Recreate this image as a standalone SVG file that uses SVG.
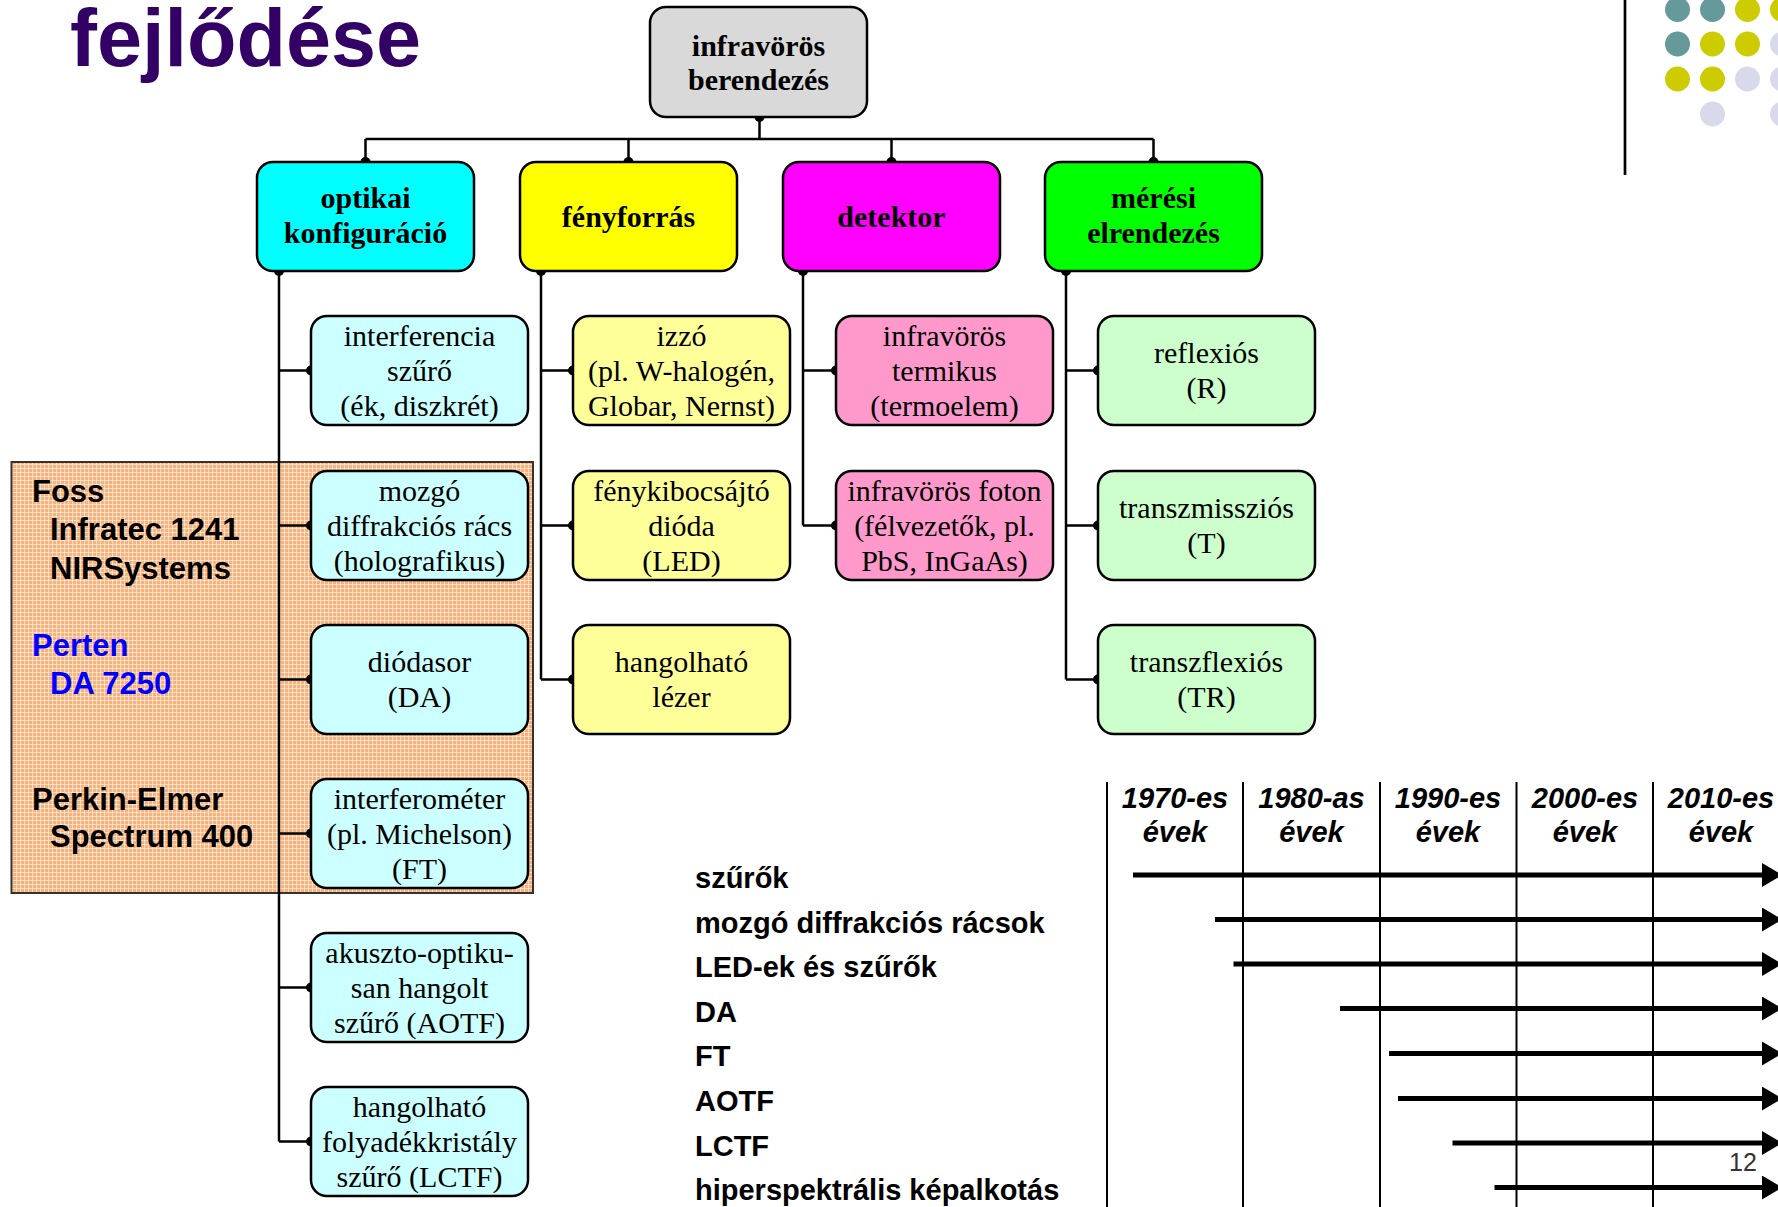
<svg xmlns="http://www.w3.org/2000/svg" width="1778" height="1207" viewBox="0 0 1778 1207">
<defs>
<pattern id="hatch" width="4" height="4" patternUnits="userSpaceOnUse">
<rect width="4" height="4" fill="#f8b27a"/>
<path d="M0 0.5H4M0.5 0V4" stroke="#ffffff" stroke-opacity="0.55" stroke-width="1"/>
</pattern>
<marker id="ah" markerUnits="userSpaceOnUse" markerWidth="20" markerHeight="24" viewBox="0 0 20 24" refX="0" refY="12" orient="auto">
<path d="M0 0L20 12L0 24Z" fill="#000"/>
</marker>
</defs>
<style>
.box{stroke:#000;stroke-width:2.5}
.t1{font-family:"Liberation Serif","Times New Roman",serif;font-weight:bold;font-size:30px;text-anchor:middle;fill:#000}
.t2{font-family:"Liberation Serif","Times New Roman",serif;font-size:30px;text-anchor:middle;fill:#000}
.c{stroke:#000;stroke-width:2.5;fill:none}
.dot{fill:#000}
.vend{font-family:"Liberation Sans",Arial,sans-serif;font-weight:bold;font-size:31px;fill:#000}
.blue{fill:#0000ff}
.tl{font-family:"Liberation Sans",Arial,sans-serif;font-weight:bold;font-size:29px;fill:#000}
.hd{font-family:"Liberation Sans",Arial,sans-serif;font-weight:bold;font-style:italic;font-size:29px;text-anchor:middle;fill:#000}
.grid{stroke:#000;stroke-width:2}
.arr{stroke:#000;stroke-width:5;marker-end:url(#ah)}
.teal{fill:#669999}.olive{fill:#cccc00}.lav{fill:#d9d9ec}
</style>

<!-- title -->
<text x="70" y="66" font-family="'Liberation Sans',Arial,sans-serif" font-weight="bold" font-size="81" fill="#330066">fejlődése</text>

<!-- decorative -->
<g id="decor">
<line x1="1625" y1="0" x2="1625" y2="175" stroke="#000" stroke-width="2.7"/>
<circle class="teal" cx="1677.5" cy="9.5" r="12.5"/>
<circle class="teal" cx="1712.5" cy="9.5" r="12.5"/>
<circle class="olive" cx="1747.5" cy="9.5" r="12.5"/>
<circle class="olive" cx="1782.5" cy="9.5" r="12.5"/>
<circle class="teal" cx="1677.5" cy="44" r="12.5"/>
<circle class="olive" cx="1712.5" cy="44" r="12.5"/>
<circle class="olive" cx="1747.5" cy="44" r="12.5"/>
<circle class="lav" cx="1782.5" cy="44" r="12.5"/>
<circle class="olive" cx="1677.5" cy="79" r="12.5"/>
<circle class="olive" cx="1712.5" cy="79" r="12.5"/>
<circle class="lav" cx="1747.5" cy="79" r="12.5"/>
<circle class="lav" cx="1782.5" cy="79" r="12.5"/>
<circle class="lav" cx="1712.5" cy="114" r="12.5"/>
<circle class="lav" cx="1782.5" cy="114" r="12.5"/>
</g>

<!-- vendor panel -->
<g id="vendors">
<rect x="11.5" y="462" width="521.5" height="431" fill="url(#hatch)" stroke="#333" stroke-width="2"/>
<text class="vend" x="32" y="502">Foss</text>
<text class="vend" x="50" y="540">Infratec 1241</text>
<text class="vend" x="50" y="579">NIRSystems</text>
<text class="vend blue" x="32" y="656">Perten</text>
<text class="vend blue" x="50" y="694">DA 7250</text>
<text class="vend" x="32" y="810">Perkin-Elmer</text>
<text class="vend" x="50" y="847">Spectrum 400</text>
</g>

<!-- connectors -->
<g id="connectors">
<path class="c" d="M759.5 117V139M365.5 139H1153.5M365.5 139V162M628.5 139V162M891.5 139V162M1153.5 139V162"/>
<path class="c" d="M279 271V1141.5M279 370.5H311M279 525.5H311M279 679.5H311M279 833.5H311M279 987.5H311M279 1141.5H311"/>
<path class="c" d="M541 271V679.5M541 370.5H573M541 525.5H573M541 679.5H573"/>
<path class="c" d="M803 271V525.5M803 370.5H836M803 525.5H836"/>
<path class="c" d="M1066 271V679.5M1066 370.5H1098M1066 525.5H1098M1066 679.5H1098"/>
<g class="dot">
<circle cx="759.5" cy="117" r="5"/>
<circle cx="365.5" cy="162" r="5"/><circle cx="628.5" cy="162" r="5"/><circle cx="891.5" cy="162" r="5"/><circle cx="1153.5" cy="162" r="5"/>
<circle cx="279" cy="271" r="5"/><circle cx="541" cy="271" r="5"/><circle cx="803" cy="271" r="5"/><circle cx="1066" cy="271" r="5"/>
<circle cx="311" cy="370.5" r="5"/><circle cx="311" cy="525.5" r="5"/><circle cx="311" cy="679.5" r="5"/><circle cx="311" cy="833.5" r="5"/><circle cx="311" cy="987.5" r="5"/><circle cx="311" cy="1141.5" r="5"/>
<circle cx="573" cy="370.5" r="5"/><circle cx="573" cy="525.5" r="5"/><circle cx="573" cy="679.5" r="5"/>
<circle cx="836" cy="370.5" r="5"/><circle cx="836" cy="525.5" r="5"/>
<circle cx="1098" cy="370.5" r="5"/><circle cx="1098" cy="525.5" r="5"/><circle cx="1098" cy="679.5" r="5"/>
</g>
</g>

<!-- root -->
<g id="root">
<rect class="box" x="650" y="7" width="217" height="110" rx="16" fill="#d9d9d9"/>
<text class="t1" x="758.5" y="56">infravörös</text>
<text class="t1" x="758.5" y="90">berendezés</text>
</g>

<!-- level 1 -->
<g id="optikai">
<rect class="box" x="257" y="162" width="217" height="109" rx="16" fill="#00ffff"/>
<text class="t1" x="365.5" y="208">optikai</text>
<text class="t1" x="365.5" y="243">konfiguráció</text>
</g>
<g id="fenyforras">
<rect class="box" x="520" y="162" width="217" height="109" rx="16" fill="#ffff00"/>
<text class="t1" x="628.5" y="227">fényforrás</text>
</g>
<g id="detektor">
<rect class="box" x="783" y="162" width="217" height="109" rx="16" fill="#ff00ff"/>
<text class="t1" x="891.5" y="227">detektor</text>
</g>
<g id="meresi">
<rect class="box" x="1045" y="162" width="217" height="109" rx="16" fill="#00ff00"/>
<text class="t1" x="1153.5" y="208">mérési</text>
<text class="t1" x="1153.5" y="243">elrendezés</text>
</g>

<!-- column 1 -->
<g id="interferencia">
<rect class="box" x="311" y="316" width="217" height="109" rx="16" fill="#ccffff"/>
<text class="t2" x="419.5" y="346">interferencia</text>
<text class="t2" x="419.5" y="381">szűrő</text>
<text class="t2" x="419.5" y="416">(ék, diszkrét)</text>
</g>
<g id="mozgo">
<rect class="box" x="311" y="471" width="217" height="109" rx="16" fill="#ccffff"/>
<text class="t2" x="419.5" y="501">mozgó</text>
<text class="t2" x="419.5" y="536">diffrakciós rács</text>
<text class="t2" x="419.5" y="571">(holografikus)</text>
</g>
<g id="diodasor">
<rect class="box" x="311" y="625" width="217" height="109" rx="16" fill="#ccffff"/>
<text class="t2" x="419.5" y="672">diódasor</text>
<text class="t2" x="419.5" y="707">(DA)</text>
</g>
<g id="interferometer">
<rect class="box" x="311" y="779" width="217" height="109" rx="16" fill="#ccffff"/>
<text class="t2" x="419.5" y="809">interferométer</text>
<text class="t2" x="419.5" y="844">(pl. Michelson)</text>
<text class="t2" x="419.5" y="879">(FT)</text>
</g>
<g id="aotf">
<rect class="box" x="311" y="933" width="217" height="109" rx="16" fill="#ccffff"/>
<text class="t2" x="419.5" y="963">akuszto-optiku-</text>
<text class="t2" x="419.5" y="998">san hangolt</text>
<text class="t2" x="419.5" y="1033">szűrő (AOTF)</text>
</g>
<g id="lctf">
<rect class="box" x="311" y="1087" width="217" height="109" rx="16" fill="#ccffff"/>
<text class="t2" x="419.5" y="1117">hangolható</text>
<text class="t2" x="419.5" y="1152">folyadékkristály</text>
<text class="t2" x="419.5" y="1187">szűrő (LCTF)</text>
</g>

<!-- column 2 -->
<g id="izzo">
<rect class="box" x="573" y="316" width="217" height="109" rx="16" fill="#ffff99"/>
<text class="t2" x="681.5" y="346">izzó</text>
<text class="t2" x="681.5" y="381">(pl. W-halogén,</text>
<text class="t2" x="681.5" y="416">Globar, Nernst)</text>
</g>
<g id="led">
<rect class="box" x="573" y="471" width="217" height="109" rx="16" fill="#ffff99"/>
<text class="t2" x="681.5" y="501">fénykibocsájtó</text>
<text class="t2" x="681.5" y="536">dióda</text>
<text class="t2" x="681.5" y="571">(LED)</text>
</g>
<g id="lezer">
<rect class="box" x="573" y="625" width="217" height="109" rx="16" fill="#ffff99"/>
<text class="t2" x="681.5" y="672">hangolható</text>
<text class="t2" x="681.5" y="707">lézer</text>
</g>

<!-- column 3 -->
<g id="termikus">
<rect class="box" x="836" y="316" width="217" height="109" rx="16" fill="#ff99cc"/>
<text class="t2" x="944.5" y="346">infravörös</text>
<text class="t2" x="944.5" y="381">termikus</text>
<text class="t2" x="944.5" y="416">(termoelem)</text>
</g>
<g id="foton">
<rect class="box" x="836" y="471" width="217" height="109" rx="16" fill="#ff99cc"/>
<text class="t2" x="944.5" y="501">infravörös foton</text>
<text class="t2" x="944.5" y="536">(félvezetők, pl.</text>
<text class="t2" x="944.5" y="571">PbS, InGaAs)</text>
</g>

<!-- column 4 -->
<g id="reflexios">
<rect class="box" x="1098" y="316" width="217" height="109" rx="16" fill="#ccffcc"/>
<text class="t2" x="1206.5" y="363">reflexiós</text>
<text class="t2" x="1206.5" y="398">(R)</text>
</g>
<g id="transzmisszios">
<rect class="box" x="1098" y="471" width="217" height="109" rx="16" fill="#ccffcc"/>
<text class="t2" x="1206.5" y="518">transzmissziós</text>
<text class="t2" x="1206.5" y="553">(T)</text>
</g>
<g id="transzflexios">
<rect class="box" x="1098" y="625" width="217" height="109" rx="16" fill="#ccffcc"/>
<text class="t2" x="1206.5" y="672">transzflexiós</text>
<text class="t2" x="1206.5" y="707">(TR)</text>
</g>

<!-- timeline -->
<g id="timeline">
<path class="grid" d="M1107 782V1207M1243 782V1207M1380 782V1207M1516.5 782V1207M1653 782V1207"/>
<text class="hd" x="1175" y="808">1970-es</text><text class="hd" x="1175" y="842">évek</text>
<text class="hd" x="1311.5" y="808">1980-as</text><text class="hd" x="1311.5" y="842">évek</text>
<text class="hd" x="1448" y="808">1990-es</text><text class="hd" x="1448" y="842">évek</text>
<text class="hd" x="1585" y="808">2000-es</text><text class="hd" x="1585" y="842">évek</text>
<text class="hd" x="1721" y="808">2010-es</text><text class="hd" x="1721" y="842">évek</text>
<text class="tl" x="695" y="888">szűrők</text>
<text class="tl" x="695" y="932.5">mozgó diffrakciós rácsok</text>
<text class="tl" x="695" y="977">LED-ek és szűrők</text>
<text class="tl" x="695" y="1021.5">DA</text>
<text class="tl" x="695" y="1066">FT</text>
<text class="tl" x="695" y="1110.5">AOTF</text>
<text class="tl" x="695" y="1155.5">LCTF</text>
<text class="tl" x="695" y="1200">hiperspektrális képalkotás</text>
<line class="arr" x1="1133" y1="875" x2="1762" y2="875"/>
<line class="arr" x1="1215" y1="919.5" x2="1762" y2="919.5"/>
<line class="arr" x1="1233.5" y1="964" x2="1762" y2="964"/>
<line class="arr" x1="1340" y1="1008.5" x2="1762" y2="1008.5"/>
<line class="arr" x1="1389" y1="1053.5" x2="1762" y2="1053.5"/>
<line class="arr" x1="1398" y1="1098.5" x2="1762" y2="1098.5"/>
<line class="arr" x1="1452.5" y1="1143" x2="1762" y2="1143"/>
<line class="arr" x1="1494.5" y1="1187.5" x2="1762" y2="1187.5"/>
<text x="1729" y="1171" font-family="'Liberation Sans',Arial,sans-serif" font-size="25" fill="#333">12</text>
</g>
</svg>
